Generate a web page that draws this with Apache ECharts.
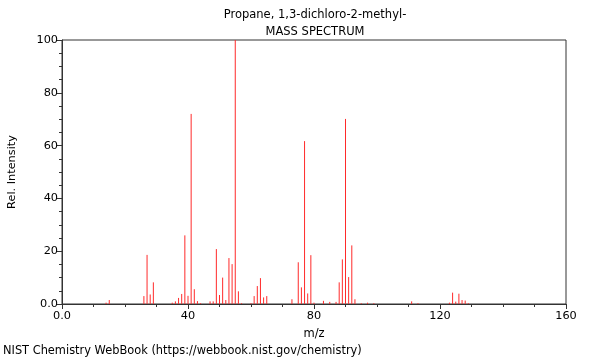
<!DOCTYPE html>
<html>
<head>
<meta charset="utf-8">
<script src="https://cdn.jsdelivr.net/npm/echarts@6/dist/echarts.min.js"></script>
<style>html,body{margin:0;padding:0;background:#fff}#c{width:600px;height:360px}</style>
</head>
<body>
<div id="c"></div>
<script>
const titleLines = ["Propane, 1,3-dichloro-2-methyl-", "MASS SPECTRUM"];
const footerText = "NIST Chemistry WebBook (https://webbook.nist.gov/chemistry)";
const mz = [14,15,26,27,28,29,35,36,37,38,39,40,41,42,43,44,47,48,49,50,51,52,53,54,55,56,57,60,61,62,63,64,65,73,75,76,77,78,79,80,83,85,87,88,89,90,91,92,93,95,97,99,111,113,123,124,125,126,127,128,129];
const intensity = [0.5,1.5,3.0,18.6,3.6,8.2,0.5,1.0,2.3,3.8,26.0,3.1,72.0,5.6,1.1,0.3,1.0,1.0,20.8,3.4,10.0,1.5,17.4,15.1,100,4.8,0.3,0.3,3.0,6.8,9.8,2.5,3.0,1.8,15.8,6.3,61.7,4.0,18.5,0.5,1.2,0.8,0.8,8.2,16.9,70.1,10.2,22.2,1.8,0.3,0.5,0.3,1.0,0.3,0.5,4.3,0.9,3.9,1.5,1.3,0.3];
const xTicks = [0,40,80,120,160];
const yTicks = [0,20,40,60,80,100];

const data = mz.map((m,i)=>[m,intensity[i]]);
const font = "DejaVu Sans";
const chart = echarts.init(document.getElementById('c'), null, {renderer:'canvas'});
chart.setOption({
  animation:false,
  backgroundColor:'#fff',
  textStyle:{fontFamily:font},
  title:{
    text: titleLines.join('\n'),
    left: 310, top: 2, textAlign:'center',
    textStyle:{fontFamily:font,fontSize:11.5,fontWeight:'normal',color:'#000',lineHeight:17}
  },
  graphic:[{type:'text',left:3,top:346,style:{text:footerText,font:'11.4px "DejaVu Sans"',fill:'#000'}}],
  grid:{left:62,right:34,top:40,bottom:56,containLabel:false,outerBoundsMode:'none',show:true,borderColor:'#333',borderWidth:1,backgroundColor:'transparent'},
  xAxis:{
    type:'value',min:xTicks[0],max:xTicks[xTicks.length-1],interval:40,
    name:'m/z',nameLocation:'middle',nameGap:24,
    nameTextStyle:{fontFamily:font,fontSize:11.5,color:'#000'},
    axisLine:{lineStyle:{color:'#333'}},
    axisTick:{show:true,length:5,lineStyle:{color:'#333'}},
    minorTick:{show:true,splitNumber:4,length:3,lineStyle:{color:'#333'}},
    splitLine:{show:false},
    axisLabel:{fontFamily:font,fontSize:11.3,color:'#000',margin:7,formatter:v=>v===0?'0.0':String(v)}
  },
  yAxis:{
    type:'value',min:yTicks[0],max:yTicks[yTicks.length-1],interval:20,
    name:'Rel. Intensity',nameLocation:'middle',nameGap:44,nameRotate:90,
    nameTextStyle:{fontFamily:font,fontSize:11.3,color:'#000'},
    axisLine:{show:true,lineStyle:{color:'#333'}},
    axisTick:{show:true,length:5,lineStyle:{color:'#333'}},
    minorTick:{show:true,splitNumber:4,length:3,lineStyle:{color:'#333'}},
    splitLine:{show:false},
    axisLabel:{fontFamily:font,fontSize:11.3,color:'#000',margin:4,formatter:v=>v===0?'0.0':String(v)}
  },
  series:[{
    type:'custom',
    data:data,
    clip:true,
    renderItem:function(params,api){
      const p0 = api.coord([api.value(0),0]);
      const p1 = api.coord([api.value(0),api.value(1)]);
      return {type:'line',shape:{x1:p0[0],y1:p0[1],x2:p1[0],y2:p1[1]},style:{stroke:'#ff2a2a',lineWidth:1}};
    }
  }]
});
</script>
</body>
</html>
